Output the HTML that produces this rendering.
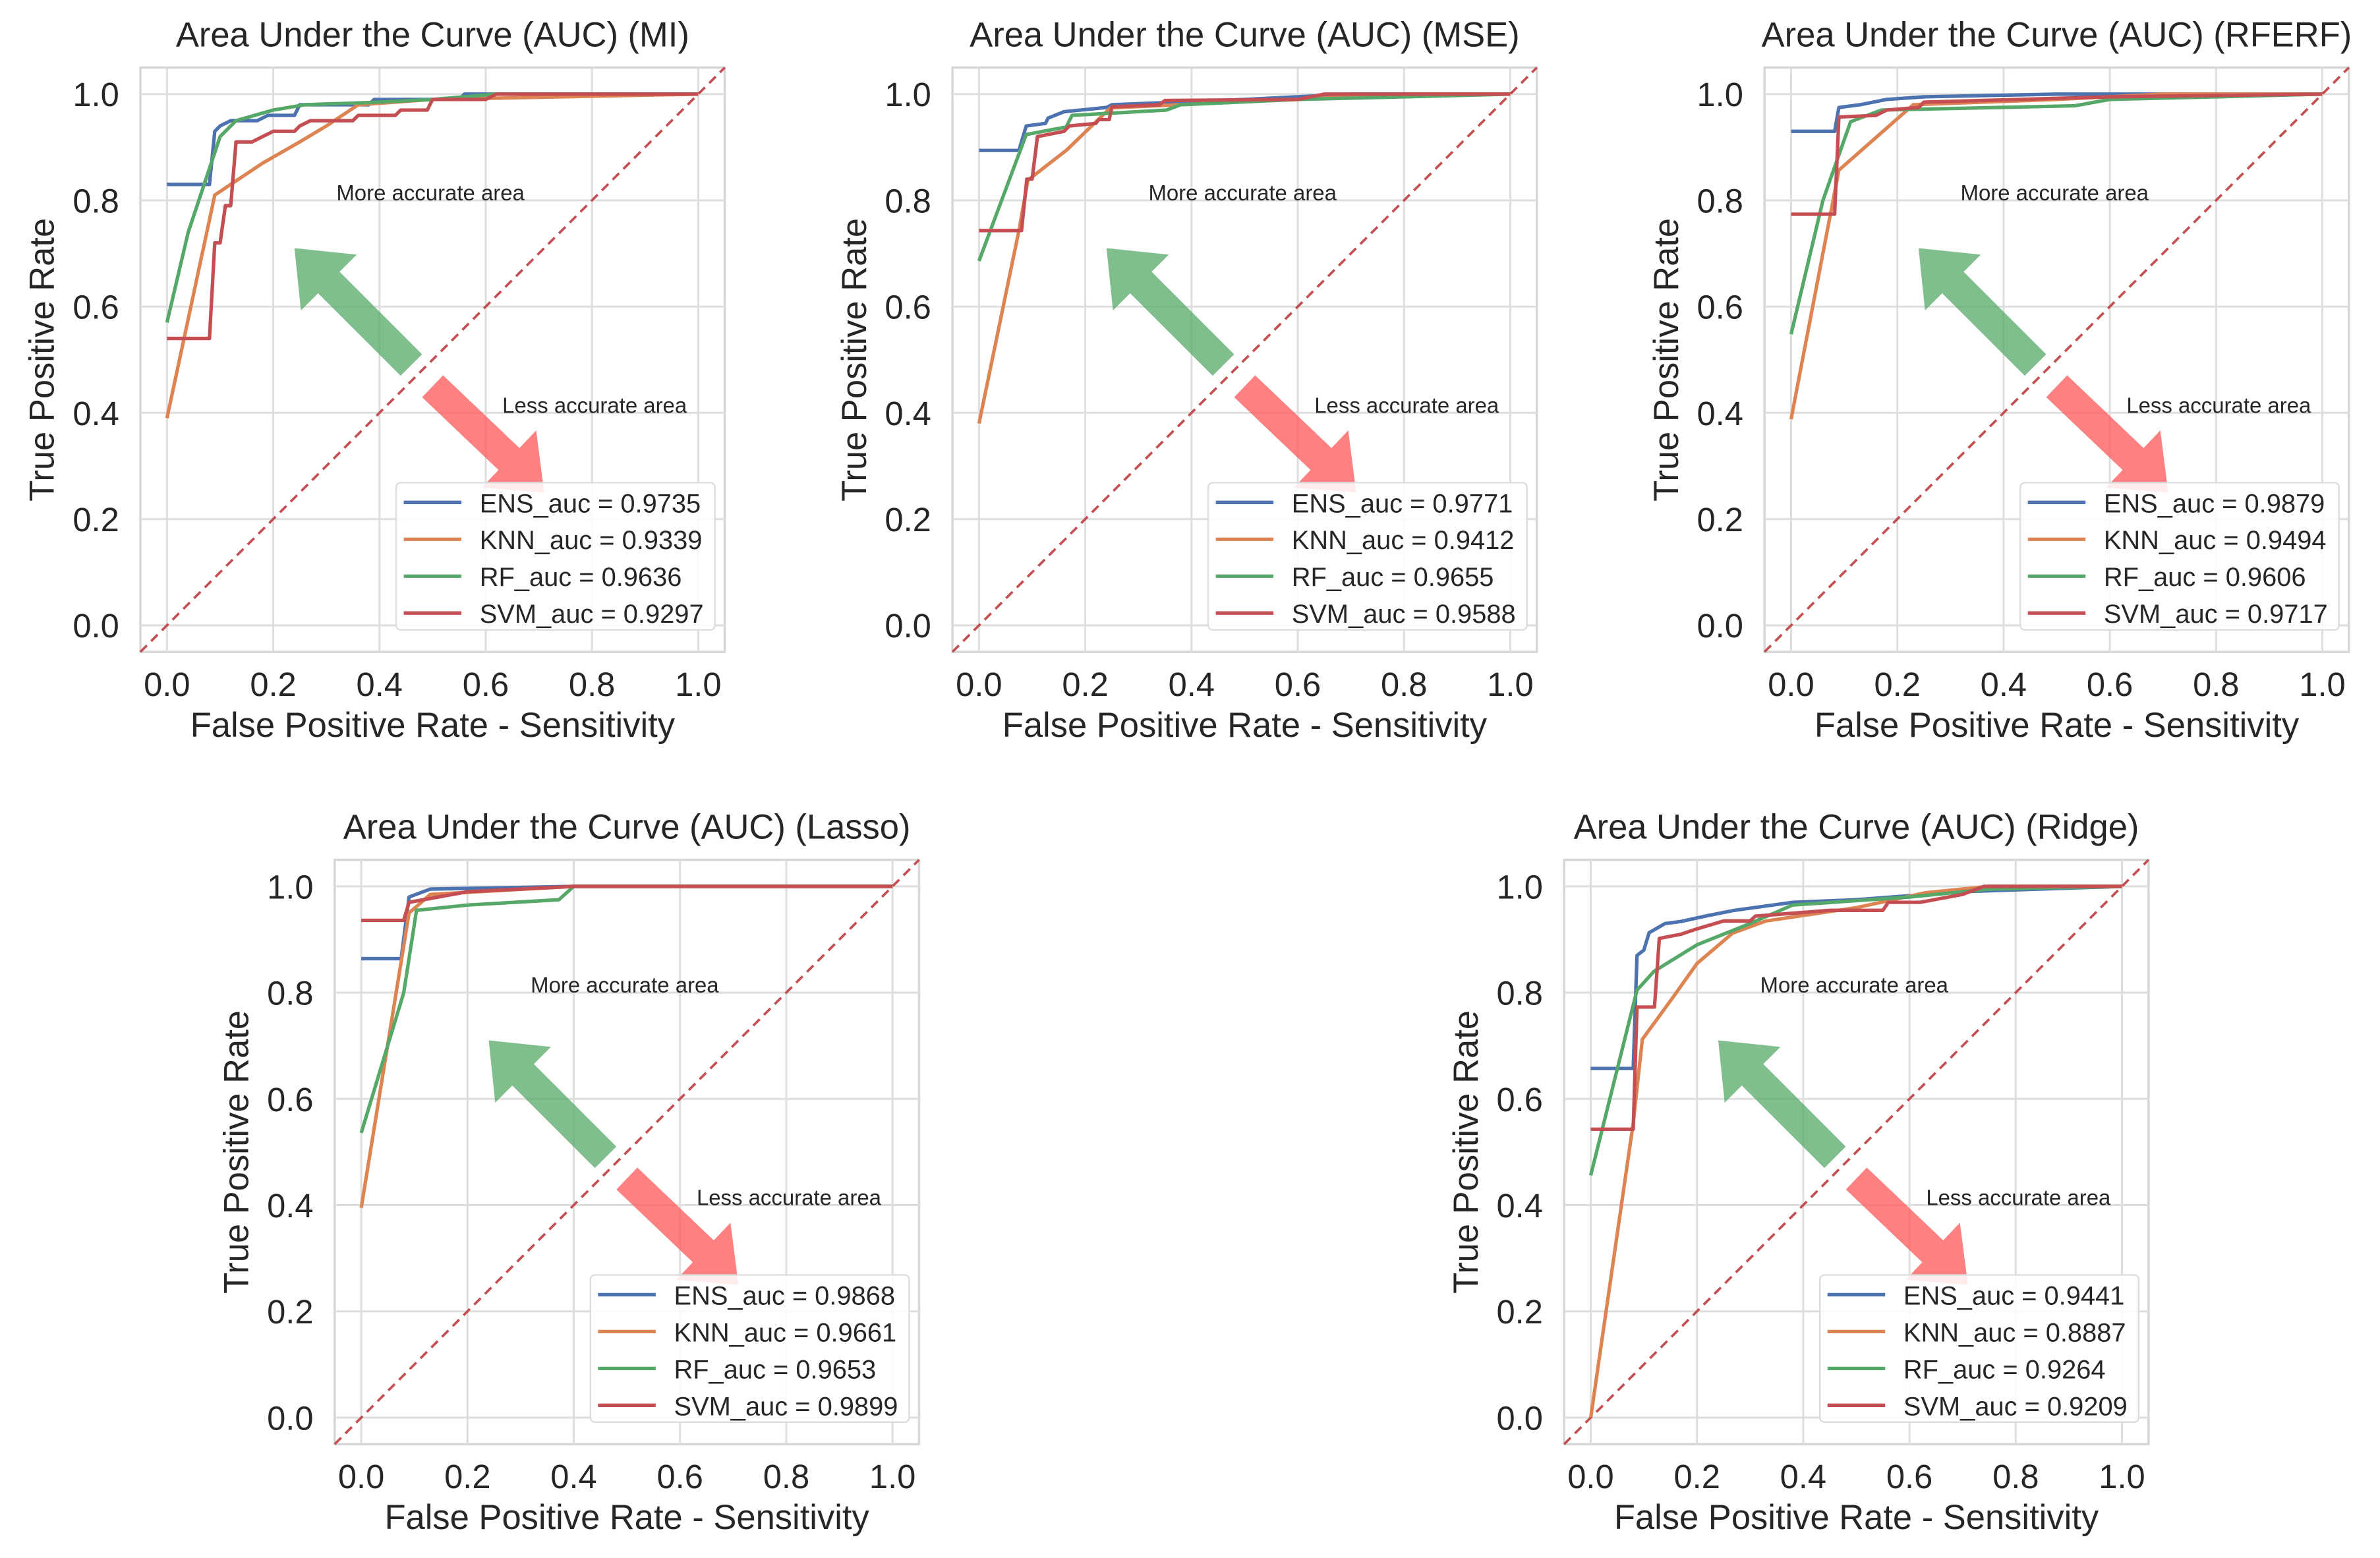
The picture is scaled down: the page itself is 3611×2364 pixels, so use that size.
<!DOCTYPE html>
<html><head><meta charset="utf-8"><style>
html,body{margin:0;padding:0;background:#fff;}
svg{display:block;}
text{font-family:"Liberation Sans",Arial,sans-serif;fill:#262626;}
</style></head>
<body>
<svg id="fig" xmlns="http://www.w3.org/2000/svg" width="3611" height="2364" viewBox="0 0 1568 1026.5"></svg>
<script>
const panelTitles = ["Area Under the Curve (AUC) (MI)","Area Under the Curve (AUC) (MSE)","Area Under the Curve (AUC) (RFERF)","Area Under the Curve (AUC) (Lasso)","Area Under the Curve (AUC) (Ridge)"];
const panelKeys = ["mi","mse","rferf","lasso","ridge"];
const seriesNames = ["ENS","KNN","RF","SVM"];
const aucValues = [
  ["0.9735","0.9339","0.9636","0.9297"],
  ["0.9771","0.9412","0.9655","0.9588"],
  ["0.9879","0.9494","0.9606","0.9717"],
  ["0.9868","0.9661","0.9653","0.9899"],
  ["0.9441","0.8887","0.9264","0.9209"]
];
const tickLabels = ["0.0","0.2","0.4","0.6","0.8","1.0"];
const tickValues = [0,0.2,0.4,0.6,0.8,1.0];

const miENS_x=[0,0.08,0.09,0.1,0.12,0.17,0.19,0.24,0.25,0.38,0.39,0.55,0.56,1];
const miENS_y=[0.83,0.83,0.93,0.94,0.95,0.95,0.96,0.96,0.98,0.98,0.99,0.99,1,1];
const miKNN_x=[0,0.09,0.12,0.18,0.25,0.3,0.36,0.5,1];
const miKNN_y=[0.39,0.81,0.83,0.87,0.91,0.94,0.98,0.99,1];
const miRF_x=[0,0.04,0.08,0.1,0.13,0.2,0.26,0.4,0.5,0.62,1];
const miRF_y=[0.57,0.74,0.86,0.92,0.95,0.97,0.98,0.985,0.99,1,1];
const miSVM_x=[0,0.08,0.09,0.1,0.11,0.12,0.13,0.16,0.18,0.2,0.24,0.25,0.27,0.35,0.36,0.43,0.44,0.49,0.5,0.6,0.62,1];
const miSVM_y=[0.54,0.54,0.72,0.72,0.79,0.79,0.91,0.91,0.92,0.93,0.93,0.94,0.95,0.95,0.96,0.96,0.97,0.97,0.99,0.99,1,1];

const mseENS_x=[0,0.075,0.089,0.125,0.13,0.16,0.24,0.25,0.5,0.7,1];
const mseENS_y=[0.894,0.894,0.94,0.945,0.955,0.967,0.975,0.98,0.99,1,1];
const mseKNN_x=[0,0.075,0.092,0.165,0.247,0.375,0.6,0.8,1];
const mseKNN_y=[0.38,0.743,0.838,0.895,0.974,0.98,0.99,1,1];
const mseRF_x=[0,0.089,0.164,0.175,0.353,0.38,0.6,0.8,1];
const mseRF_y=[0.686,0.924,0.938,0.96,0.97,0.98,0.99,0.995,1];
const mseSVM_x=[0,0.08,0.09,0.1,0.11,0.16,0.17,0.22,0.225,0.245,0.25,0.34,0.35,0.6,0.65,1];
const mseSVM_y=[0.743,0.743,0.84,0.84,0.92,0.93,0.94,0.945,0.952,0.952,0.976,0.98,0.988,0.99,1,1];

const rfENS_x=[0,0.082,0.09,0.13,0.18,0.25,0.5,1];
const rfENS_y=[0.93,0.93,0.975,0.98,0.99,0.995,1,1];
const rfKNN_x=[0,0.09,0.23,0.5,0.7,1];
const rfKNN_y=[0.388,0.857,0.98,0.99,1,1];
const rfRF_x=[0,0.06,0.112,0.13,0.17,0.534,0.6,0.8,1];
const rfRF_y=[0.548,0.8,0.948,0.955,0.97,0.978,0.99,0.995,1];
const rfSVM_x=[0,0.082,0.09,0.16,0.18,0.24,0.25,0.6,1];
const rfSVM_y=[0.774,0.774,0.957,0.96,0.97,0.975,0.985,0.995,1];

const laENS_x=[0,0.075,0.09,0.13,0.4,1];
const laENS_y=[0.864,0.864,0.98,0.995,1,1];
const laKNN_x=[0,0.09,0.13,0.4,1];
const laKNN_y=[0.395,0.95,0.985,1,1];
const laRF_x=[0,0.08,0.104,0.2,0.372,0.4,1];
const laRF_y=[0.536,0.8,0.955,0.965,0.975,1,1];
const laSVM_x=[0,0.08,0.09,0.2,0.4,1];
const laSVM_y=[0.936,0.936,0.97,0.99,1,1];

const riENS_x=[0,0.08,0.087,0.1,0.11,0.14,0.17,0.22,0.27,0.38,0.5,0.7,1];
const riENS_y=[0.657,0.657,0.87,0.88,0.913,0.93,0.934,0.945,0.955,0.97,0.975,0.99,1];
const riKNN_x=[0,0.08,0.097,0.154,0.2,0.267,0.33,0.5,0.63,0.75,1];
const riKNN_y=[0,0.554,0.712,0.79,0.855,0.912,0.935,0.96,0.988,1,1];
const riRF_x=[0,0.087,0.119,0.2,0.3,0.38,0.6,0.75,1];
const riRF_y=[0.456,0.805,0.84,0.89,0.93,0.965,0.98,0.995,1];
const riSVM_x=[0,0.08,0.087,0.12,0.129,0.17,0.2,0.25,0.3,0.31,0.45,0.55,0.56,0.62,0.7,0.74,1];
const riSVM_y=[0.543,0.543,0.773,0.773,0.902,0.91,0.92,0.935,0.935,0.944,0.955,0.955,0.97,0.97,0.985,1,1];

const curves = [
  [[miENS_x,miENS_y],[miKNN_x,miKNN_y],[miRF_x,miRF_y],[miSVM_x,miSVM_y]],
  [[mseENS_x,mseENS_y],[mseKNN_x,mseKNN_y],[mseRF_x,mseRF_y],[mseSVM_x,mseSVM_y]],
  [[rfENS_x,rfENS_y],[rfKNN_x,rfKNN_y],[rfRF_x,rfRF_y],[rfSVM_x,rfSVM_y]],
  [[laENS_x,laENS_y],[laKNN_x,laKNN_y],[laRF_x,laRF_y],[laSVM_x,laSVM_y]],
  [[riENS_x,riENS_y],[riKNN_x,riKNN_y],[riRF_x,riRF_y],[riSVM_x,riSVM_y]]
];

const colors=["#4c72b0","#dd8452","#55a868","#c44e52"];
const origins=[[110,412],[645,412],[1180,412],[238,934],[1048,934]];
const U=350;
const NS="http://www.w3.org/2000/svg";
const svg=document.getElementById('fig');
function mk(tag,attrs,parent){const e=document.createElementNS(NS,tag);for(const k in attrs)e.setAttribute(k,attrs[k]);(parent||svg).appendChild(e);return e;}

origins.forEach((o,p)=>{
  const sx=v=>o[0]+v*U, sy=v=>o[1]-v*U;
  const g=mk('g',{});
  
  
  const L=sx(-0.05),R=sx(1.05),T=sy(1.05),B=sy(-0.05);
  const bg=mk('rect',{x:L,y:T,width:R-L,height:B-T,fill:'#fff',stroke:'#d6d6d6','stroke-width':1.5},g);
  
  
  tickValues.forEach((t,i)=>{
    const gv=mk('line',{x1:sx(t),x2:sx(t),y1:T,y2:B,stroke:'#dedede','stroke-width':1.3},g);
    
    
    const gh=mk('line',{x1:L,x2:R,y1:sy(t),y2:sy(t),stroke:'#dedede','stroke-width':1.3},g);
    
    
    const xt=mk('text',{x:sx(t),y:B+29,'font-size':22,'text-anchor':'middle'},g);
    xt.textContent=tickLabels[i];
    
    
    const yt=mk('text',{x:L-14,y:sy(t)+8,'font-size':22,'text-anchor':'end'},g);
    yt.textContent=tickLabels[i];
    
    
  });
  const cx=(L+R)/2;
  const title=mk('text',{x:cx,y:T-14,'font-size':22.8,'text-anchor':'middle'},g);
  title.textContent=panelTitles[p];
  
  
  const xl=mk('text',{x:cx,y:B+56,'font-size':22.8,'text-anchor':'middle'},g);
  xl.textContent="False Positive Rate - Sensitivity";
  
  
  const yc=(T+B)/2, yx=L-57;
  const yl=mk('text',{x:yx,y:yc,'font-size':22.8,'text-anchor':'middle',transform:`rotate(-90 ${yx} ${yc})`},g);
  yl.textContent="True Positive Rate";
  
  
  const d=mk('line',{x1:sx(-0.05),y1:sy(-0.05),x2:sx(1.05),y2:sy(1.05),stroke:'#c44e52','stroke-width':1.6,'stroke-dasharray':'6 4'},g);
  
  
  function arrow(x0,y0,x1,y1,fill,name){
    const X0=sx(x0),Y0=sy(y0),X1=sx(x1),Y1=sy(y1);
    const dx=X1-X0,dy=Y1-Y0,len=Math.hypot(dx,dy),ux=dx/len,uy=dy/len,nx=-uy,ny=ux;
    const w=10,hw=26,hl=32;
    const bx=X1-ux*hl,by=Y1-uy*hl;
    const pts=[[X0+nx*w,Y0+ny*w],[bx+nx*w,by+ny*w],[bx+nx*hw,by+ny*hw],[X1,Y1],[bx-nx*hw,by-ny*hw],[bx-nx*w,by-ny*w],[X0-nx*w,Y0-ny*w]];
    const a=mk('polygon',{points:pts.map(q=>q.join(',')).join(' '),fill:fill,opacity:0.75},g);
    
    
  }
  arrow(0.46,0.49,0.24,0.71,'#55a868','more-accurate-arrow');
  arrow(0.5,0.45,0.71,0.25,'#ff5555','less-accurate-arrow');
  const t1=mk('text',{x:sx(0.496),y:sy(0.8),'font-size':14.3,'text-anchor':'middle',fill:'#333'},g);
  t1.textContent="More accurate area";
  
  
  const t2=mk('text',{x:sx(0.805),y:sy(0.4),'font-size':14.3,'text-anchor':'middle',fill:'#333'},g);
  t2.textContent="Less accurate area";
  
  
  curves[p].forEach((c,s)=>{
    const pts=c[0].map((x,i)=>sx(x).toFixed(1)+','+sy(c[1][i]).toFixed(1)).join(' ');
    const pl=mk('polyline',{points:pts,fill:'none',stroke:colors[s],'stroke-width':2.3,'stroke-linejoin':'round'},g);
    
    
  });
  const lx=o[0]+151,ly=o[1]-94;
  const lg=mk('g',{},g);
  
  
  mk('rect',{x:lx,y:ly,width:210,height:97,rx:3,fill:'#fff','fill-opacity':0.85,stroke:'#dcdcdc','stroke-width':1},lg);
  seriesNames.forEach((n,s)=>{
    const yy=ly+13+s*24.3;
    const e=mk('g',{},lg);
    
    
    mk('line',{x1:lx+5,x2:lx+43,y1:yy,y2:yy,stroke:colors[s],'stroke-width':2.3},e);
    const tx=mk('text',{x:lx+55,y:yy+6.5,'font-size':17.3},e);
    tx.textContent=n+"_auc = "+aucValues[p][s];
  });
});
</script>
</body></html>
